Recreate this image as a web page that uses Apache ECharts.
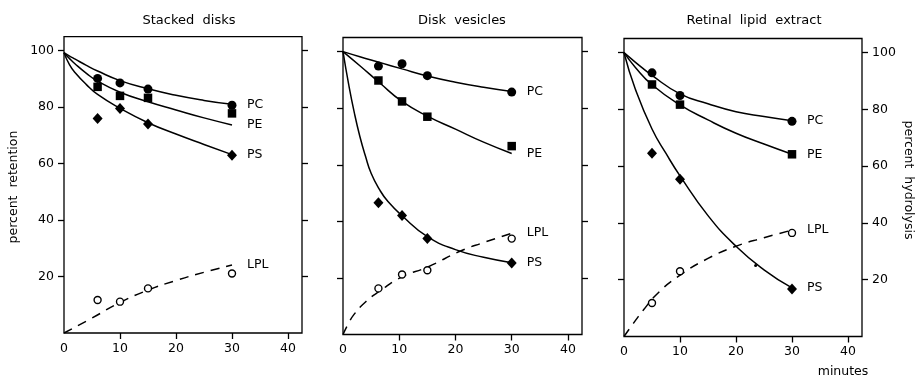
<!DOCTYPE html>
<html>
<head>
<meta charset="utf-8">
<script src="https://cdn.jsdelivr.net/npm/echarts@6/dist/echarts.min.js"></script>
<style>
  html, body { margin: 0; padding: 0; background: #fff; }
  #chart { width: 916px; height: 380px; }
</style>
</head>
<body>
<div id="chart"></div>
<script>
// ---- Stacked disks: measured retention (%) and LPL hydrolysis (%) ----
const sdTimes = [6, 10, 15, 30];
const sdPC = [90.2, 88.6, 86.4, 80.7];
const sdPE = [87.2, 84.0, 83.3, 77.8];
const sdPS = [76.0, 79.5, 74.0, 63.0];
const sdLPL = [11.7, 11.1, 15.8, 21.1];
// fitted curves
const sdFitT = [0, 1, 2, 4, 6, 10, 15, 20, 25, 30];
const sdFitPC = [99.3, 98.1, 97.0, 94.8, 92.8, 89.4, 86.5, 84.2, 82.4, 81.0];
const sdFitPE = [99.3, 97.2, 95.3, 92.0, 89.2, 85.3, 81.9, 79.0, 76.2, 73.7];
const sdFitPS = [99.3, 95.0, 92.2, 88.0, 84.5, 79.6, 74.5, 70.5, 66.8, 63.2];
const sdFitLplT = [0, 5, 10, 15, 20, 25, 30];
const sdFitLPL = [0, 5.3, 10.8, 15.2, 18.6, 21.5, 24.1];

// ---- Disk vesicles ----
const dvTimes = [6.3, 10.5, 15, 30];
const dvPC = [94.9, 95.7, 91.5, 85.7];
const dvPE = [89.8, 82.4, 77.0, 66.6];
const dvPS = [46.6, 42.1, 33.9, 25.3];
const dvLPL = [16.3, 21.2, 22.7, 33.9];
const dvFitT = [0, 3, 6.5, 10.5, 15, 20, 25, 30];
const dvFitPC = [100, 98.2, 96.2, 93.9, 91.4, 89.2, 87.4, 85.9];
const dvFitPE = [100, 95.0, 89.0, 82.4, 77.2, 72.6, 68.0, 64.0];
const dvFitPsT = [0, 1, 2, 3, 4, 5, 6.5, 8, 10.5, 15, 20, 25, 30];
const dvFitPS = [100, 88.5, 78.5, 70.0, 63.0, 57.0, 51.2, 47.0, 42.0, 34.6, 30.0, 27.3, 25.4];
const dvFitLplT = [0, 1, 2, 4, 6.5, 10.5, 15, 21, 25, 30];
const dvFitLPL = [0, 4, 7.2, 11.5, 15.3, 20.4, 23.8, 29.6, 32.5, 35.8];

// ---- Retinal lipid extract ----
const rlTimes = [5, 10, 30];
const rlPC = [92.9, 84.9, 75.8];
const rlPE = [88.8, 81.7, 64.2];
const rlPS = [64.6, 55.4, 16.7];
const rlLPL = [11.8, 23.0, 36.5];
const rlSpeck = [[23.5, 25.0]];
const rlFitT = [0, 2, 5, 10, 15, 20, 25, 30];
const rlFitPC = [100, 96.7, 92.0, 85.5, 82.0, 79.2, 77.5, 76.0];
const rlFitPE = [100, 94.9, 88.7, 81.6, 76.3, 71.6, 67.8, 64.2];
const rlFitPsT = [0, 2, 5, 7.5, 10, 15, 20, 25, 30];
const rlFitPS = [100, 87.3, 73.1, 64.5, 56.6, 42.6, 31.8, 23.5, 17.1];
const rlFitLplT = [0, 1.7, 3.5, 5.9, 9.7, 15, 20, 25, 30];
const rlFitLPL = [0, 4.7, 9.4, 15.0, 21.2, 27.5, 31.8, 34.8, 37.5];

// ---- axis ticks / labels ----
const xTickValues = [10, 20, 30, 40];
const xLabelValues = [0, 10, 20, 30, 40];
const yTickValues = [20, 40, 60, 80, 100];
const panelTitles = ['Stacked  disks', 'Disk  vesicles', 'Retinal  lipid  extract'];

const INK = '#000';
const FONT = '"DejaVu Sans", sans-serif';

const pair = (xs, ys) => xs.map((x, i) => [x, ys[i]]);

const grids = [
  { left: 64, top: 36.6, width: 238, height: 296.4 },
  { left: 343, top: 37.5, width: 239, height: 297 },
  { left: 624, top: 38.5, width: 238, height: 298 }
].map(g => Object.assign({ show: true, borderColor: INK, borderWidth: 1.3, backgroundColor: 'transparent' }, g));

const xAxes = grids.map((g, i) => ({
  type: 'value', gridIndex: i, min: 0, max: 42.5,
  axisLine: { show: false },
  splitLine: { show: false },
  axisTick: { show: true, length: 6, customValues: xTickValues, lineStyle: { color: INK, width: 1.3 } },
  axisLabel: { show: true, customValues: xLabelValues, margin: 9, color: INK, fontSize: 12.5, fontFamily: FONT }
}));

function yAxis(grid, position, labels) {
  return {
    type: 'value', gridIndex: grid, position, min: 0, max: 105,
    axisLine: { show: false },
    splitLine: { show: false },
    axisTick: { show: true, length: 6, customValues: yTickValues, lineStyle: { color: INK, width: 1.3 } },
    axisLabel: { show: labels, customValues: yTickValues, margin: 10, color: INK, fontSize: 12.5, fontFamily: FONT }
  };
}
const yAxes = [
  yAxis(0, 'left', true), yAxis(0, 'right', false),
  yAxis(1, 'left', false), yAxis(1, 'right', false),
  yAxis(2, 'left', false), yAxis(2, 'right', true)
];

function curve(panel, name, data, dashed) {
  return {
    type: 'line', name, xAxisIndex: panel, yAxisIndex: panel * 2,
    data, smooth: 0.5, showSymbol: false, silent: true,
    lineStyle: { color: INK, width: 1.5, type: dashed ? [9, 7] : 'solid' },
    endLabel: { show: true, formatter: name, distance: 15, color: INK, fontSize: 12.5, fontFamily: FONT }
  };
}

function marks(panel, data, symbol, size, open) {
  return {
    type: 'scatter', xAxisIndex: panel, yAxisIndex: panel * 2,
    data, symbol, symbolSize: size, silent: true, z: 3,
    itemStyle: open
      ? { color: '#fff', borderColor: INK, borderWidth: 1.4, opacity: 1 }
      : { color: INK, opacity: 1 }
  };
}

const series = [
  // Stacked disks
  curve(0, 'PC', pair(sdFitT, sdFitPC)),
  curve(0, 'PE', pair(sdFitT, sdFitPE)),
  curve(0, 'PS', pair(sdFitT, sdFitPS)),
  curve(0, 'LPL', pair(sdFitLplT, sdFitLPL), true),
  marks(0, pair(sdTimes, sdPC), 'circle', 9),
  marks(0, pair(sdTimes, sdPE), 'rect', 8.5),
  marks(0, pair(sdTimes, sdPS), 'diamond', [10, 11]),
  marks(0, pair(sdTimes, sdLPL), 'circle', 7, true),
  // Disk vesicles
  curve(1, 'PC', pair(dvFitT, dvFitPC)),
  curve(1, 'PE', pair(dvFitT, dvFitPE)),
  curve(1, 'PS', pair(dvFitPsT, dvFitPS)),
  curve(1, 'LPL', pair(dvFitLplT, dvFitLPL), true),
  marks(1, pair(dvTimes, dvPC), 'circle', 9),
  marks(1, pair(dvTimes, dvPE), 'rect', 8.5),
  marks(1, pair(dvTimes, dvPS), 'diamond', [10, 11]),
  marks(1, pair(dvTimes, dvLPL), 'circle', 7, true),
  // Retinal lipid extract
  curve(2, 'PC', pair(rlFitT, rlFitPC)),
  curve(2, 'PE', pair(rlFitT, rlFitPE)),
  curve(2, 'PS', pair(rlFitPsT, rlFitPS)),
  curve(2, 'LPL', pair(rlFitLplT, rlFitLPL), true),
  marks(2, pair(rlTimes, rlPC), 'circle', 9),
  marks(2, pair(rlTimes, rlPE), 'rect', 8.5),
  marks(2, pair(rlTimes, rlPS), 'diamond', [10, 11]),
  marks(2, pair(rlTimes, rlLPL), 'circle', 7, true),
  marks(2, rlSpeck, 'circle', 3)
];

const titles = [184, 457, 749].map((x, i) => ({
  text: panelTitles[i], left: x, top: 9, textAlign: 'center',
  textStyle: { color: INK, fontSize: 13, fontWeight: 'normal', fontFamily: FONT }
}));

const graphic = [
  { type: 'text', x: 14, y: 187, rotation: Math.PI / 2,
    style: { text: 'percent  retention', fill: INK, font: '12.5px ' + FONT, align: 'center', verticalAlign: 'middle' } },
  { type: 'text', x: 908, y: 180, rotation: -Math.PI / 2,
    style: { text: 'percent  hydrolysis', fill: INK, font: '12.5px ' + FONT, align: 'center', verticalAlign: 'middle' } },
  { type: 'text', x: 843, y: 372,
    style: { text: 'minutes', fill: INK, font: '12.5px ' + FONT, align: 'center', verticalAlign: 'middle' } }
];

const chart = echarts.init(document.getElementById('chart'), null, { renderer: 'canvas' });
chart.setOption({
  backgroundColor: '#fff',
  animation: false,
  title: titles,
  grid: grids,
  xAxis: xAxes,
  yAxis: yAxes,
  series,
  graphic
});
</script>
</body>
</html>
